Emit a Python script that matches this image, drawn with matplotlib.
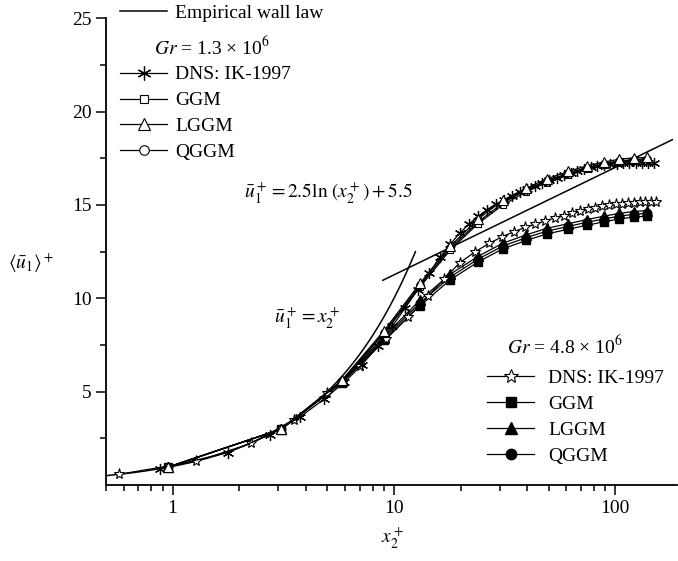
import matplotlib
matplotlib.use('Agg')
import matplotlib.pyplot as plt
import numpy as np
from matplotlib.lines import Line2D
from matplotlib.ticker import FixedLocator, FixedFormatter, NullFormatter

plt.rcParams['font.family'] = ['Liberation Serif', 'DejaVu Serif']
plt.rcParams['mathtext.fontset'] = 'stix'
plt.rcParams['font.size'] = 14

W, H = 678, 561

# DNS: IK-1997, Gr = 1.3e6 (asterisks)
dns1_x = [0.88, 1.78, 2.74, 3.75, 4.83, 5.97, 7.18, 8.46, 9.82, 11.26, 12.79, 14.41,
          16.12, 17.94, 19.87, 21.91, 24.07, 26.36, 28.79, 31.37, 34.10, 37.00, 40.07,
          43.32, 46.77, 50.43, 54.31, 58.42, 62.78, 67.40, 72.30, 77.49, 82.99, 88.82,
          95.00, 101.5, 108.5, 115.9, 123.7, 131.9, 140.7, 149.0]
dns1_u = [0.88, 1.74, 2.68, 3.63, 4.60, 5.50, 6.45, 7.45, 8.50, 9.50, 10.45, 11.35,
          12.20, 12.90, 13.50, 14.00, 14.40, 14.75, 15.05, 15.25, 15.50, 15.70, 15.88,
          16.03, 16.18, 16.32, 16.45, 16.58, 16.70, 16.82, 16.93, 17.03, 17.10, 17.15,
          17.19, 17.21, 17.23, 17.25, 17.26, 17.26, 17.26, 17.25]

# DNS: IK-1997, Gr = 4.8e6 (open stars)
dns2_x = [0.57, 1.28, 2.27, 3.54, 5.0, 7.0, 9.2, 11.6, 14.2, 16.9, 19.8, 23.3, 27.0,
          30.8, 34.9, 39.1, 43.4, 48.3, 53.3, 58.5, 63.9, 69.5, 75.3, 81.3, 87.5, 93.9,
          100.5, 107.3, 114.3, 121.5, 128.9, 136.5, 144.3, 152.0]
dns2_u = [0.57, 1.27, 2.23, 3.50, 4.93, 6.40, 7.80, 9.00, 10.10, 11.05, 11.90, 12.50,
          12.95, 13.30, 13.57, 13.80, 13.97, 14.15, 14.30, 14.43, 14.55, 14.66, 14.76,
          14.85, 14.92, 14.98, 15.03, 15.07, 15.10, 15.13, 15.15, 15.16, 15.17, 15.17]

# model results (same grid for all)
mod_x = [0.95, 3.1, 5.8, 9.0, 13.1, 18.0, 24.0, 31.0, 39.6, 49.0, 61.4, 74.6,
         89.0, 104.0, 121.0, 139.0]

ggm1_u = [0.95, 3.0, 5.55, 8.10, 10.60, 12.60, 14.00, 15.00, 15.70, 16.20, 16.60,
          16.92, 17.12, 17.27, 17.35, 17.38]
lggm1_u = [0.95, 3.0, 5.60, 8.25, 10.80, 12.80, 14.25, 15.25, 15.90, 16.40, 16.80,
           17.10, 17.30, 17.45, 17.52, 17.55]
qggm1_u = [0.95, 3.0, 5.55, 8.15, 10.70, 12.70, 14.10, 15.10, 15.80, 16.30, 16.70,
           17.00, 17.20, 17.35, 17.43, 17.46]

ggm2_u = [0.95, 3.0, 5.45, 7.75, 9.60, 11.00, 11.95, 12.65, 13.10, 13.45, 13.70,
          13.92, 14.10, 14.25, 14.35, 14.40]
lggm2_u = [0.95, 3.0, 5.55, 7.95, 9.90, 11.30, 12.25, 12.95, 13.40, 13.75, 14.00,
           14.22, 14.40, 14.55, 14.65, 14.70]
qggm2_u = [0.95, 3.0, 5.50, 7.85, 9.75, 11.15, 12.10, 12.80, 13.25, 13.60, 13.85,
           14.08, 14.25, 14.40, 14.50, 14.55]

# empirical wall law ranges
lin_range = (0.5, 12.5)
log_range = (8.9, 181.0)


def fx(px):
    return px / W


def fy(py):
    return 1 - py / H


fig = plt.figure(figsize=(W / 100, H / 100), dpi=100)
ax = fig.add_axes([fx(106), fy(485), fx(677) - fx(106), fy(18.3) - fy(485)])

xl = np.geomspace(*lin_range, 200)
xg = np.geomspace(*log_range, 200)
ax.plot(xl, xl, color='black', lw=1.1)
ax.plot(xg, 2.5 * np.log(xg) + 5.5, color='black', lw=1.1)

kw = dict(color='black', lw=0.9)
dns1_style = dict(marker=(6, 2, 0), ms=8, mew=0.9)
dns2_style = dict(marker='*', ms=8, mfc='white', mew=0.8)
ggm1_style = dict(marker='s', ms=5, mfc='white', mew=0.8)
lggm1_style = dict(marker='^', ms=6.5, mfc='white', mew=0.8)
qggm1_style = dict(marker='o', ms=5.5, mfc='white', mew=0.8)
ggm2_style = dict(marker='s', ms=5.5, mfc='black')
lggm2_style = dict(marker='^', ms=6.5, mfc='black')
qggm2_style = dict(marker='o', ms=6, mfc='black')

ax.plot(mod_x, qggm2_u, **kw, **qggm2_style)
ax.plot(mod_x, ggm2_u, **kw, **ggm2_style)
ax.plot(mod_x, lggm2_u, **kw, **lggm2_style)
ax.plot(dns2_x, dns2_u, **kw, **dns2_style)
ax.plot(mod_x, qggm1_u, **kw, **qggm1_style)
ax.plot(mod_x, ggm1_u, **kw, **ggm1_style)
ax.plot(dns1_x, dns1_u, **kw, **dns1_style)
ax.plot(mod_x, lggm1_u, **kw, **lggm1_style)

ax.set_xscale('log')
ax.set_xlim(0.5, 190)
ax.set_ylim(0, 25)
ax.xaxis.set_major_locator(FixedLocator([1, 10, 100]))
ax.xaxis.set_major_formatter(FixedFormatter(['1', '10', '100']))
minors = [m * d for d in (0.1, 1, 10, 100) for m in range(2, 10)]
ax.xaxis.set_minor_locator(FixedLocator([v for v in minors if 0.5 <= v <= 190]))
ax.xaxis.set_minor_formatter(NullFormatter())
ax.yaxis.set_major_locator(FixedLocator([5, 10, 15, 20, 25]))
ax.yaxis.set_minor_locator(FixedLocator([2.5, 7.5, 12.5, 17.5, 22.5]))
ax.tick_params(which='major', direction='out', length=7, width=1.1, labelsize=14)
ax.tick_params(which='minor', direction='out', length=4, width=1.1)
for s in ('top', 'right'):
    ax.spines[s].set_visible(False)
for s in ('left', 'bottom'):
    ax.spines[s].set_linewidth(1.3)

leg_kw = dict(frameon=False, borderpad=0, borderaxespad=0, fontsize=14,
              handlelength=2.42, labelspacing=0.43, markerscale=1.25)

h_wall = Line2D([], [], color='black', lw=1.1)
legA = fig.legend([h_wall], ['Empirical wall law'], loc='center left',
                  bbox_to_anchor=(fx(120), fy(13)), handletextpad=0.41, **leg_kw)

hB = [Line2D([], [], **kw, **st) for st in (dns1_style, ggm1_style, lggm1_style, qggm1_style)]
legB = fig.legend(hB, ['DNS: IK-1997', 'GGM', 'LGGM', 'QGGM'], loc='center left',
                  bbox_to_anchor=(fx(120), fy(113.5)), handletextpad=0.41, **leg_kw)

hC = [Line2D([], [], **kw, **st) for st in (dns2_style, ggm2_style, lggm2_style, qggm2_style)]
legC = fig.legend(hC, ['DNS: IK-1997', 'GGM', 'LGGM', 'QGGM'], loc='center left',
                  bbox_to_anchor=(fx(487), fy(417)), handletextpad=0.72, **leg_kw)

fig.text(fx(212), fy(47), r'$Gr$ = 1.3 × 10$^6$', ha='center', va='center', fontsize=14)
fig.text(fx(565), fy(346), r'$Gr$ = 4.8 × 10$^6$', ha='center', va='center', fontsize=14)
fig.text(fx(328), fy(193), r'$\bar{u}_1^+ = 2.5\mathrm{ln}\ (x_2^+) + 5.5$',
         ha='center', va='center', fontsize=14)
fig.text(fx(307), fy(318), r'$\bar{u}_1^+ = x_2^+$', ha='center', va='center', fontsize=14)
fig.text(fx(31), fy(263), r'$\langle\bar{u}_1\rangle^+$', ha='center', va='center', fontsize=14)
fig.text(fx(393), fy(538), r'$x_2^+$', ha='center', va='center', fontsize=14)

fig.savefig('out.png', dpi=100)
